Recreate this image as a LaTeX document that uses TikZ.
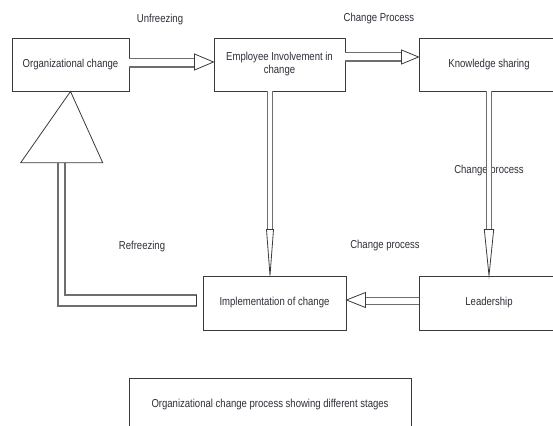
\documentclass[tikz,border=0pt]{standalone}
\usepackage{fontspec}
\setmainfont{Liberation Sans}[FakeStretch=0.83]
\usetikzlibrary{calc}
\definecolor{txt}{HTML}{2E2E38}
\definecolor{ln}{HTML}{3A3A3A}
\definecolor{sh}{HTML}{6E6E6E}
\tikzset{
  box/.style={draw=ln, line width=0.9pt, fill=white, text=txt, font=\fontsize{11.5}{13}\selectfont, align=center, inner sep=2pt},
  lbl/.style={text=txt, font=\fontsize{11.5}{13}\selectfont, inner sep=1pt},
  shaft/.style={draw=sh, line width=1.1pt, double=white},
  head/.style={draw=ln, line width=0.8pt, fill=white, line join=miter},
  frz/.style={draw=sh, line width=1.2pt}
}
\begin{document}
\begin{tikzpicture}[x=1pt,y=-1pt]
\useasboundingbox (0,0) rectangle (553,425);
% boxes
\node[box, minimum width=117pt, minimum height=53pt] (oc) at (70.5,64.5) {Organizational change};
\node[box, minimum width=131pt, minimum height=53pt] (emp) at (279.5,64.5) {Employee Involvement in\\change};
\node[box, minimum width=140pt, minimum height=53pt] (ks) at (489,64.5) {Knowledge sharing};
\node[box, minimum width=143pt, minimum height=54pt] (impl) at (274.5,303) {Implementation of change};
\node[box, minimum width=140pt, minimum height=54pt] (lead) at (489,303) {Leadership};
\node[box, minimum width=282pt, minimum height=54pt] (cap) at (270,405) {Organizational change process showing different stages};

% Unfreezing arrow
\draw[shaft, double distance=7pt] ($(oc.east)+(0,-1.5)$) -- ($(emp.west)+(-19,-1.5)$);
\draw[head] ($(emp.west)+(0,-2.5)$) -- ++(-19,-8) -- ++(0,16) -- cycle;
\node[lbl] (l1) at (160,20) {Unfreezing};

% Change Process arrow (top)
\draw[shaft, double distance=7pt] ($(emp.east)+(0,-7.5)$) -- ($(ks.west)+(-17,-7.5)$);
\draw[head] ($(ks.west)+(0,-7.5)$) -- ++(-17,-7) -- ++(0,14) -- cycle;
\node[lbl] (l2) at (379,19) {Change Process};

% Employee -> Implementation
\coordinate (e1) at ($(emp.south)+(-9.5,0)$);
\draw[shaft, double distance=4pt] (e1) -- (e1 |- 0,230);
\draw[head] (e1 |- impl.north) -- ++(-3.5,-46) -- ++(7,0) -- cycle;

% Knowledge sharing -> Leadership
\node[lbl] (l3) at (489,171) {Change process};
\draw[shaft, double distance=4.5pt] (ks.south) -- (ks.south |- 0,230);
\draw[head] (lead.north) -- ++(-4.7,-46) -- ++(9.4,0) -- cycle;

% Leadership -> Implementation
\draw[shaft, double distance=6pt] ($(lead.west)+(0,-2)$) -- ($(impl.east)+(19,-2)$);
\draw[head] ($(impl.east)+(0,-3)$) -- ++(19,-7.5) -- ++(0,15) -- cycle;
\node[lbl] (l4) at (385,246) {Change process};

% Refreezing arrow
\coordinate (r1) at ($(impl.west)+(-6,-8)$);
\coordinate (r2) at ($(impl.west)+(-6,3)$);
\draw[frz] (r1) -- (65,295) -- (65,163);
\draw[frz] (r2) -- (58,306) -- (58,163);
\draw[ln, line width=0.7pt] (r1) -- (r2);
\draw[head] (oc.south) -- (20.7,162.7) -- (102.7,162.7) -- cycle;
\node[lbl] (l5) at (142,247) {Refreezing};
\end{tikzpicture}
\end{document}
